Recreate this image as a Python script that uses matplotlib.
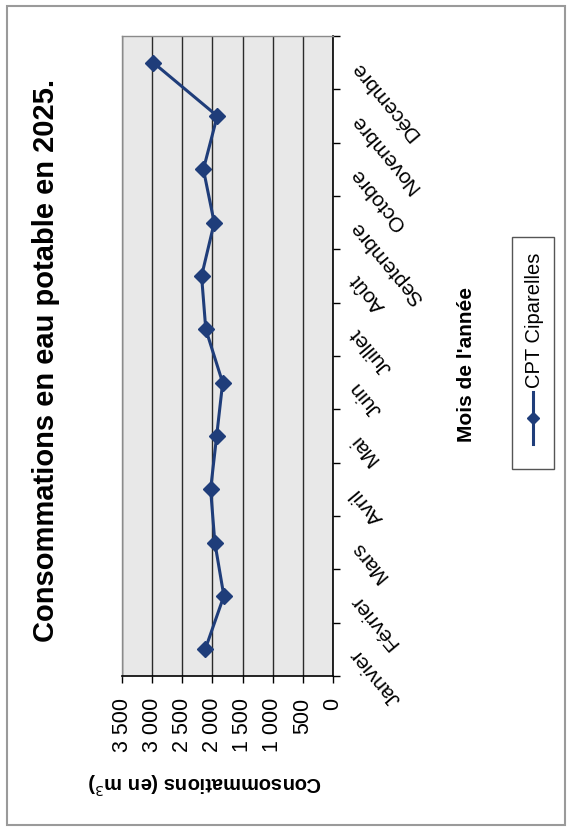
import numpy as np
import matplotlib
matplotlib.use('Agg')
import matplotlib.pyplot as plt
from matplotlib.patches import Rectangle
from matplotlib.lines import Line2D
from matplotlib.ticker import FuncFormatter, MultipleLocator

plt.rcParams['font.family'] = ['Liberation Sans', 'DejaVu Sans']

months = ['Janvier', 'Février', 'Mars', 'Avril', 'Mai', 'Juin',
          'Juillet', 'Août', 'Septembre', 'Octobre', 'Novembre', 'Décembre']
conso = [2120, 1810, 1960, 2030, 1930, 1830,
         2110, 2180, 1970, 2150, 1920, 2980]
series_name = 'CPT Ciparelles'
title = 'Consommations en eau potable en 2025.'
value_label = 'Consommations (en m$^3$)'
cat_label = "Mois de l'année"

W, H = 567, 829
line_col = '#1f3d7a'


def fx(x):
    return x / W


def fy(y):
    return 1 - y / H


fig = plt.figure(figsize=(W / 100, H / 100), dpi=100)
fig.patch.set_facecolor('white')

# chart is drawn turned a quarter turn: values run right->left, months bottom->top
ax = fig.add_axes([fx(122), fy(677), fx(333) - fx(122), fy(37) - fy(677)])
ax.set_facecolor('#e8e8e8')

pos = np.arange(len(months))
ax.plot(conso, pos, color=line_col, lw=2.2, marker='D', ms=8,
        mfc=line_col, mec=line_col, zorder=3)

ax.set_xlim(3500, 0)
ax.set_ylim(-0.5, len(months) - 0.5)

ax.xaxis.set_major_locator(MultipleLocator(500))
ax.xaxis.set_major_formatter(FuncFormatter(lambda v, p: f'{int(v):,}'.replace(',', ' ')))
ax.grid(axis='x', color='#2a2a2a', lw=1)
ax.set_axisbelow(True)
ax.tick_params(axis='x', direction='out', length=5, width=1, pad=10,
               labelsize=15.5, labelrotation=90, color='black')
for lab in ax.get_xticklabels():
    lab.set_va('top')

ax.yaxis.tick_right()
ax.set_yticks(np.arange(-0.5, len(months), 1.0))
ax.set_yticklabels([])
ax.set_yticks(pos, labels=months, minor=True)
ax.tick_params(axis='y', which='major', direction='out', length=5, width=1, color='black')
ax.tick_params(axis='y', which='minor', length=0, pad=15, labelsize=15)
for lab in ax.get_yticklabels(minor=True):
    lab.set_rotation(130)
    lab.set_rotation_mode('anchor')
    lab.set_ha('right')
    lab.set_va('center')

for side in ['left', 'top']:
    ax.spines[side].set_color('#8a8a8a')
    ax.spines[side].set_linewidth(1)
for side in ['right', 'bottom']:
    ax.spines[side].set_color('black')
    ax.spines[side].set_linewidth(1.2)

fig.text(fx(46), fy(360), title, rotation=90, ha='center', va='center',
         fontsize=21, fontweight='bold')
fig.text(fx(205), fy(783), value_label, rotation=180, ha='center', va='center',
         fontsize=14.5, fontweight='bold')
fig.text(fx(466), fy(365), cat_label, rotation=90, ha='center', va='center',
         fontsize=15, fontweight='bold')

# legend box, turned like the rest
fig.add_artist(Rectangle((fx(512), fy(470)), fx(554) - fx(512), fy(238) - fy(470),
                         transform=fig.transFigure, fill=False,
                         edgecolor='#555555', lw=1))
fig.add_artist(Line2D([fx(533), fx(533)], [fy(445), fy(393)],
                      transform=fig.transFigure, color=line_col, lw=2.2))
fig.add_artist(Line2D([fx(533)], [fy(419)], transform=fig.transFigure,
                      marker='D', ms=6, color=line_col, lw=0))
fig.text(fx(534), fy(388), series_name, rotation=90, ha='center', va='bottom',
         fontsize=14.5)

# outer frame
fig.add_artist(Rectangle((fx(7), fy(826)), fx(565) - fx(7), fy(7) - fy(826),
                         transform=fig.transFigure, fill=False,
                         edgecolor='#9a9a9a', lw=1.5))

fig.savefig('out.png', dpi=100)
